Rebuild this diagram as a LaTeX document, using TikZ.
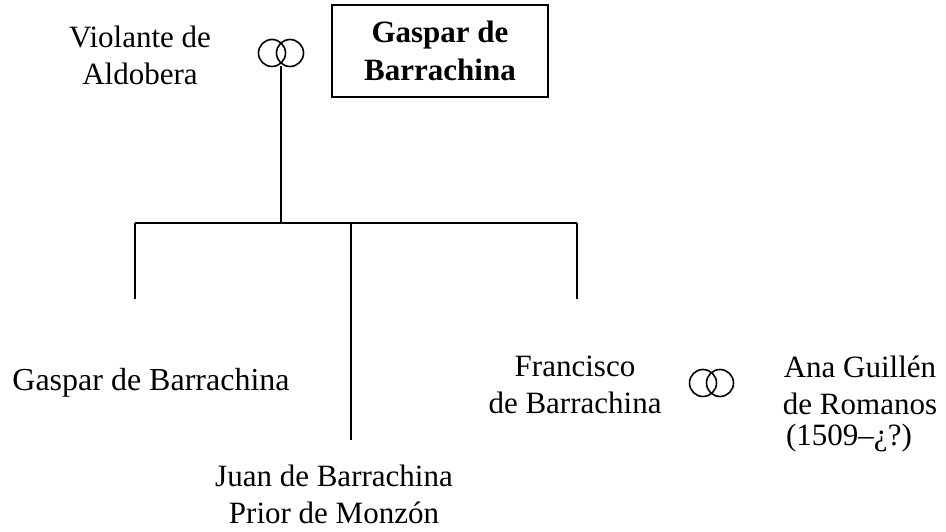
\documentclass[tikz,border=0pt]{standalone}
\usepackage{fontspec}
\setmainfont{Liberation Serif}
\begin{document}
\begin{tikzpicture}[x=1pt,y=-1pt,
  lbl/.style={inner sep=0pt,align=center,font=\fontsize{31}{37}\selectfont},
  ln/.style={line width=2pt},
  ring/.style={line width=1.6pt}]
\useasboundingbox (0,0) rectangle (946,532);
% top
\node[lbl] (viol) at (140,55) {Violante de\\Aldobera};
\node[draw,line width=1.5pt,minimum width=216pt,minimum height=92pt,inner sep=0pt,align=center,font=\fontsize{31}{38}\selectfont\bfseries] (gaspar) at (440,51) {Gaspar de\\Barrachina};
\draw[ring] (272,53) circle (13.5);
\draw[ring] (290,53) circle (13.5);
\coordinate (r1) at (281,66.5);
\coordinate (bar) at (281,223);
\coordinate (c1) at (135,223);
\coordinate (c2) at (351,223);
\coordinate (c3) at (577,223);
\coordinate (e1) at (135,299);
\coordinate (e2) at (351,440);
\coordinate (e3) at (577,299);
\draw[ln] (r1) -- (bar);
\draw[ln] (c1) -- (c3);
\draw[ln] (c1) -- (e1);
\draw[ln] (c2) -- (e2);
\draw[ln] (c3) -- (e3);
% children
\node[lbl,font=\fontsize{32}{37}\selectfont] (g2) at (151,383) {Gaspar de Barrachina};
\node[lbl] (juan) at (334,494) {Juan de Barrachina\\Prior de Monzón};
\node[lbl] (fran) at (575,385) {Francisco\\de Barrachina};
\draw[ring] (703,383) circle (13.5);
\draw[ring] (720,383) circle (13.5);
\node[lbl] (ana) at (860,385) {Ana Guillén\\de Romanos};
\node[lbl] (date) at (849,438) {(1509–¿?)};
\end{tikzpicture}
\end{document}
